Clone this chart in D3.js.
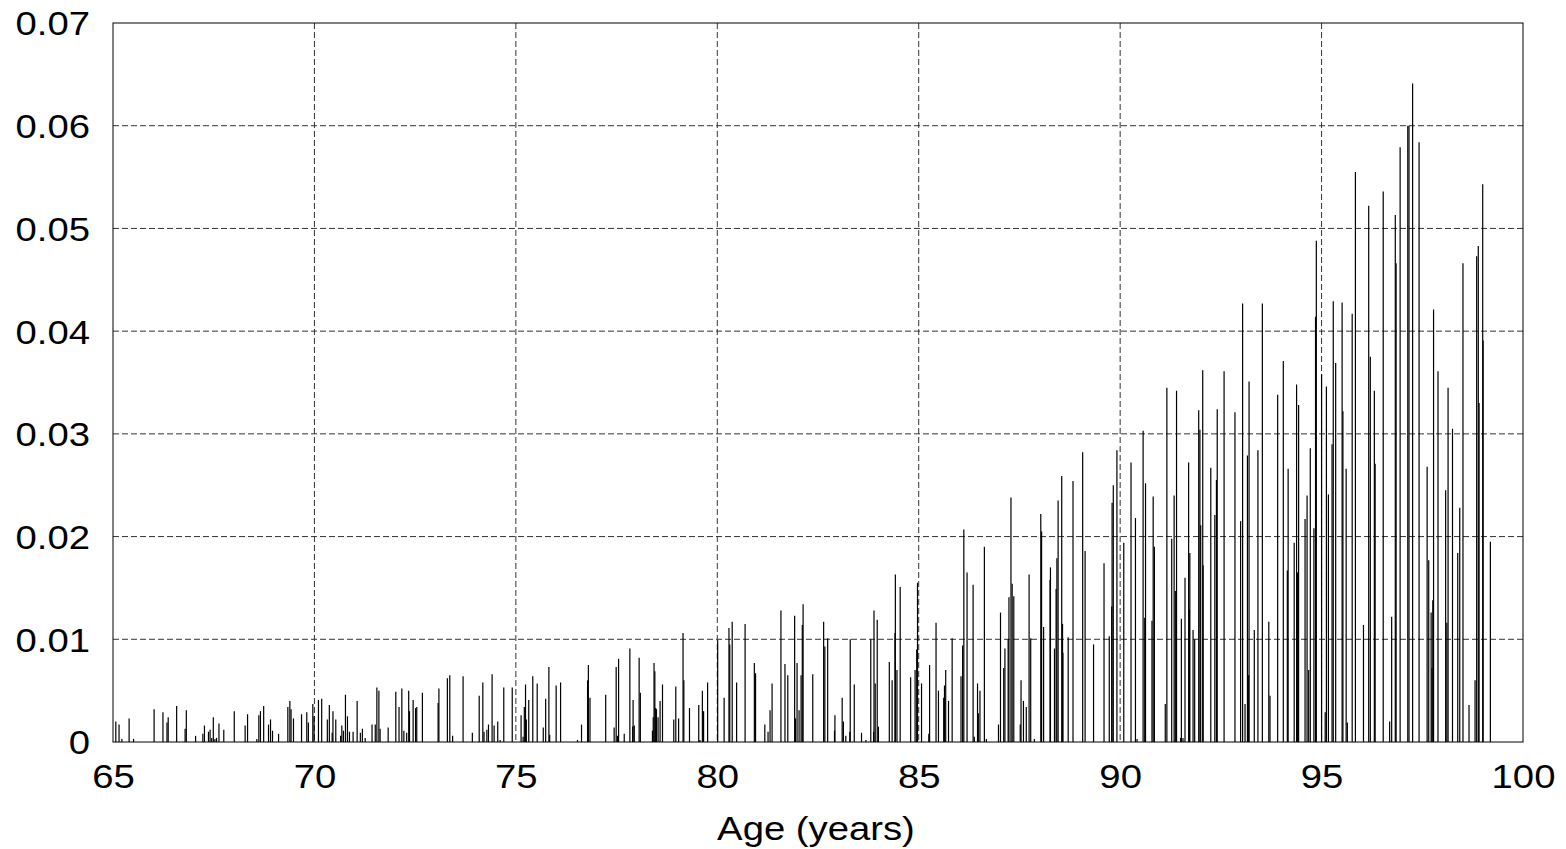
<!DOCTYPE html>
<html>
<head>
<meta charset="utf-8">
<script src="https://cdn.jsdelivr.net/npm/d3@7"></script>
<style>
  body { margin: 0; background: #fff; }
  text { font-family: "Liberation Sans", Arial, sans-serif; }
</style>
</head>
<body>
<div class="chart"></div>
<script>
// Spikes, [age, value], one array per 5-year band
const band65 = [[65.07,0.0020],[65.15,0.0017],[65.22,0.0003],[65.40,0.0023],[65.51,0.0003],[66.02,0.0032],[66.24,0.0029],[66.34,0.0019],[66.37,0.0024],[66.58,0.0035],[66.79,0.0013],[66.82,0.0031],[67.05,0.0006],[67.23,0.0008],[67.27,0.0016],[67.37,0.0010],[67.41,0.0012],[67.45,0.0004],[67.49,0.0024],[67.53,0.0003],[67.57,0.0004],[67.63,0.0018],[67.75,0.0012],[68.01,0.0030],[68.28,0.0016],[68.34,0.0027],[68.57,0.0003],[68.62,0.0026],[68.66,0.0030],[68.74,0.0035],[68.86,0.0017],[68.91,0.0022],[68.96,0.0011],[69.11,0.0008],[69.34,0.0034],[69.39,0.0040],[69.42,0.0032],[69.48,0.0023],[69.68,0.0027],[69.81,0.0029],[69.85,0.0019],[69.96,0.0037],[69.99,0.0025]];
const band70 = [[70.10,0.0041],[70.18,0.0042],[70.32,0.0022],[70.37,0.0036],[70.44,0.0009],[70.46,0.0030],[70.53,0.0022],[70.65,0.0006],[70.68,0.0016],[70.72,0.0011],[70.77,0.0046],[70.82,0.0025],[70.87,0.0010],[70.96,0.0010],[71.06,0.0040],[71.14,0.0009],[71.19,0.0013],[71.26,0.0004],[71.43,0.0017],[71.51,0.0017],[71.55,0.0053],[71.60,0.0050],[71.63,0.0013],[71.83,0.0014],[72.02,0.0049],[72.10,0.0034],[72.17,0.0052],[72.22,0.0011],[72.29,0.0009],[72.34,0.0050],[72.36,0.0030],[72.45,0.0041],[72.51,0.0033],[72.54,0.0034],[72.68,0.0048],[73.07,0.0038],[73.09,0.0052],[73.30,0.0062],[73.36,0.0065],[73.43,0.0006],[73.69,0.0064],[73.92,0.0009],[74.09,0.0045],[74.18,0.0058],[74.21,0.0010],[74.28,0.0012],[74.32,0.0017],[74.41,0.0066],[74.46,0.0016],[74.55,0.0020],[74.61,0.0002],[74.70,0.0053],[74.91,0.0053]];
const band75 = [[75.13,0.0026],[75.18,0.0005],[75.21,0.0034],[75.24,0.0056],[75.26,0.0022],[75.32,0.0041],[75.42,0.0064],[75.53,0.0057],[75.68,0.0014],[75.74,0.0042],[75.82,0.0073],[75.84,0.0007],[76.00,0.0055],[76.11,0.0058],[76.53,0.0002],[76.63,0.0017],[76.78,0.0060],[76.80,0.0075],[76.84,0.0043],[77.23,0.0046],[77.44,0.0014],[77.49,0.0073],[77.52,0.0006],[77.55,0.0081],[77.69,0.0008],[77.83,0.0091],[77.90,0.0015],[77.91,0.0041],[77.94,0.0016],[78.06,0.0082],[78.09,0.0048],[78.39,0.0011],[78.41,0.0024],[78.43,0.0077],[78.45,0.0069],[78.47,0.0033],[78.49,0.0032],[78.53,0.0024],[78.58,0.0040],[78.64,0.0056],[78.92,0.0022],[78.97,0.0054],[79.04,0.0023],[79.15,0.0106],[79.17,0.0060],[79.31,0.0033],[79.54,0.0036],[79.57,0.0002],[79.63,0.0050],[79.66,0.0030],[79.76,0.0058]];
const band80 = [[80.01,0.0099],[80.17,0.0043],[80.29,0.0111],[80.31,0.0095],[80.37,0.0117],[80.48,0.0058],[80.69,0.0115],[80.92,0.0077],[80.95,0.0067],[81.18,0.0017],[81.26,0.0010],[81.31,0.0031],[81.36,0.0057],[81.58,0.0128],[81.68,0.0076],[81.75,0.0065],[81.92,0.0123],[81.94,0.0023],[81.98,0.0077],[82.03,0.0031],[82.08,0.0065],[82.11,0.0114],[82.13,0.0134],[82.37,0.0066],[82.64,0.0117],[82.67,0.0093],[82.74,0.0101],[82.91,0.0011],[82.92,0.0026],[83.10,0.0043],[83.13,0.0020],[83.19,0.0006],[83.29,0.0010],[83.30,0.0100],[83.40,0.0056],[83.58,0.0009],[83.69,0.0002],[83.81,0.0100],[83.88,0.0010],[83.89,0.0128],[83.92,0.0057],[83.97,0.0119],[84.00,0.0015],[84.27,0.0078],[84.34,0.0060],[84.41,0.0106],[84.42,0.0163],[84.46,0.0070],[84.54,0.0151],[84.80,0.0063],[84.91,0.0070],[84.95,0.0090],[84.97,0.0155]];
const band85 = [[85.07,0.0057],[85.25,0.0008],[85.27,0.0075],[85.43,0.0116],[85.49,0.0050],[85.62,0.0043],[85.64,0.0055],[85.67,0.0070],[85.74,0.0040],[85.83,0.0101],[86.05,0.0064],[86.09,0.0094],[86.12,0.0207],[86.20,0.0165],[86.35,0.0153],[86.38,0.0005],[86.46,0.0057],[86.48,0.0028],[86.52,0.0050],[86.63,0.0190],[86.68,0.0003],[86.98,0.0017],[87.03,0.0126],[87.11,0.0072],[87.14,0.0091],[87.22,0.0100],[87.24,0.0141],[87.29,0.0238],[87.32,0.0154],[87.36,0.0142],[87.52,0.0017],[87.54,0.0060],[87.60,0.0040],[87.67,0.0034],[87.74,0.0163],[87.78,0.0101],[87.87,0.0003],[88.03,0.0222],[88.05,0.0205],[88.10,0.0112],[88.26,0.0158],[88.27,0.0170],[88.37,0.0091],[88.41,0.0149],[88.43,0.0179],[88.46,0.0235],[88.55,0.0259],[88.57,0.0115],[88.58,0.0087],[88.71,0.0102],[88.83,0.0254],[89.07,0.0282],[89.13,0.0186],[89.34,0.0095],[89.60,0.0174],[89.73,0.0103],[89.79,0.0132],[89.80,0.0233],[89.83,0.0250],[89.92,0.0284]];
const band90 = [[90.09,0.0194],[90.27,0.0272],[90.38,0.0218],[90.42,0.0003],[90.57,0.0303],[90.61,0.0121],[90.63,0.0252],[90.79,0.0118],[90.82,0.0239],[90.85,0.0190],[91.12,0.0037],[91.16,0.0345],[91.28,0.0198],[91.34,0.0240],[91.37,0.0147],[91.40,0.0342],[91.50,0.0004],[91.52,0.0120],[91.56,0.0004],[91.61,0.0160],[91.70,0.0272],[91.72,0.0129],[91.73,0.0184],[91.81,0.0109],[91.85,0.0100],[91.95,0.0323],[91.98,0.0304],[92.00,0.0211],[92.05,0.0362],[92.06,0.0172],[92.25,0.0267],[92.35,0.0221],[92.39,0.0255],[92.41,0.0324],[92.58,0.0361],[92.85,0.0321],[92.99,0.0215],[93.04,0.0427],[93.10,0.0037],[93.16,0.0279],[93.19,0.0065],[93.20,0.0351],[93.33,0.0109],[93.42,0.0284],[93.53,0.0427],[93.69,0.0117],[93.72,0.0045],[93.91,0.0338],[94.05,0.0371],[94.15,0.0167],[94.17,0.0266],[94.32,0.0194],[94.38,0.0348],[94.40,0.0165],[94.43,0.0328],[94.59,0.0217],[94.64,0.0240],[94.68,0.0070],[94.72,0.0286],[94.81,0.0208],[94.85,0.0414],[94.87,0.0488]];
const band95 = [[95.00,0.0358],[95.09,0.0029],[95.12,0.0346],[95.17,0.0241],[95.26,0.0290],[95.29,0.0429],[95.35,0.0369],[95.51,0.0428],[95.53,0.0322],[95.61,0.0266],[95.64,0.0019],[95.76,0.0417],[95.84,0.0555],[96.04,0.0114],[96.17,0.0522],[96.21,0.0375],[96.31,0.0342],[96.33,0.0271],[96.53,0.0536],[96.69,0.0020],[96.74,0.0122],[96.83,0.0513],[96.85,0.0466],[96.95,0.0579],[97.14,0.0600],[97.17,0.0600],[97.26,0.0641],[97.42,0.0584],[97.62,0.0268],[97.66,0.0177],[97.72,0.0126],[97.74,0.0072],[97.76,0.0138],[97.78,0.0421],[97.89,0.0361],[98.08,0.0245],[98.11,0.0116],[98.14,0.0345],[98.25,0.0305],[98.38,0.0184],[98.43,0.0228],[98.51,0.0466],[98.66,0.0036],[98.81,0.0060],[98.85,0.0473],[98.89,0.0483],[98.91,0.0330],[99.00,0.0543],[99.01,0.0391],[99.19,0.0195]];

const xTicks = [65, 70, 75, 80, 85, 90, 95, 100];
const yTicks = [0, 0.01, 0.02, 0.03, 0.04, 0.05, 0.06, 0.07];
const yTickLabels = ["0", "0.01", "0.02", "0.03", "0.04", "0.05", "0.06", "0.07"];
const xLabel = "Age (years)";

const spikes = [].concat(band65, band70, band75, band80, band85, band90, band95);

// the original picture is a bit stretched sideways, so the text is too
const stretch = 1.16;

const margin = { top: 23, right: 43, bottom: 107, left: 113 };
const width = 1566 - margin.left - margin.right;
const height = 849 - margin.top - margin.bottom;

const svg = d3.select(".chart")
    .append("svg")
    .attr("width", width + margin.left + margin.right)
    .attr("height", height + margin.top + margin.bottom)
    .append("g")
    .attr("transform", `translate(${margin.left}, ${margin.top})`);

const xScale = d3.scaleLinear().domain([65, 100]).range([0, width]);
const yScale = d3.scaleLinear().domain([0, 0.07]).range([height, 0]);

// dashed grid
svg.append("g")
    .selectAll("line")
    .data(xTicks.slice(1, -1))
    .enter()
    .append("line")
    .attr("x1", d => xScale(d)).attr("x2", d => xScale(d))
    .attr("y1", 0).attr("y2", height)
    .attr("stroke", "#333")
    .attr("stroke-width", 1)
    .attr("stroke-dasharray", "6,3");

svg.append("g")
    .selectAll("line")
    .data(yTicks.slice(1, -1))
    .enter()
    .append("line")
    .attr("x1", 0).attr("x2", width)
    .attr("y1", d => yScale(d)).attr("y2", d => yScale(d))
    .attr("stroke", "#333")
    .attr("stroke-width", 1)
    .attr("stroke-dasharray", "6,3");

// spikes
svg.append("g")
    .selectAll("line")
    .data(spikes)
    .enter()
    .append("line")
    .attr("x1", d => xScale(d[0])).attr("x2", d => xScale(d[0]))
    .attr("y1", yScale(0)).attr("y2", d => yScale(d[1]))
    .attr("stroke", "#000")
    .attr("stroke-width", 1.2);

// frame
svg.append("rect")
    .attr("width", width)
    .attr("height", height)
    .attr("fill", "none")
    .attr("stroke", "#000")
    .attr("stroke-width", 1);

// axes (labels only)
const xAxis = svg.append("g")
    .attr("transform", `translate(0, ${height})`)
    .call(d3.axisBottom(xScale).tickValues(xTicks).tickSize(0).tickFormat(d3.format("d")));
xAxis.select(".domain").remove();
xAxis.selectAll("text")
    .attr("y", 46)
    .attr("dy", null)
    .attr("fill", "#000")
    .attr("font-size", 33)
    .attr("font-family", "Liberation Sans, Arial, sans-serif")
    .attr("transform", `scale(${stretch},1)`);

const yAxis = svg.append("g")
    .call(d3.axisLeft(yScale).tickValues(yTicks).tickSize(0).tickFormat((d, i) => yTickLabels[i]));
yAxis.select(".domain").remove();
yAxis.selectAll("text")
    .attr("x", -23 / stretch)
    .attr("dy", "0.36em")
    .attr("fill", "#000")
    .attr("font-size", 33)
    .attr("font-family", "Liberation Sans, Arial, sans-serif")
    .attr("transform", `scale(${stretch},1)`);

// x axis title
svg.append("text")
    .attr("transform", `translate(${width / 2 - 2}, ${height + 98}) scale(${stretch},1)`)
    .attr("text-anchor", "middle")
    .attr("font-size", 33)
    .text(xLabel);
</script>
</body>
</html>
